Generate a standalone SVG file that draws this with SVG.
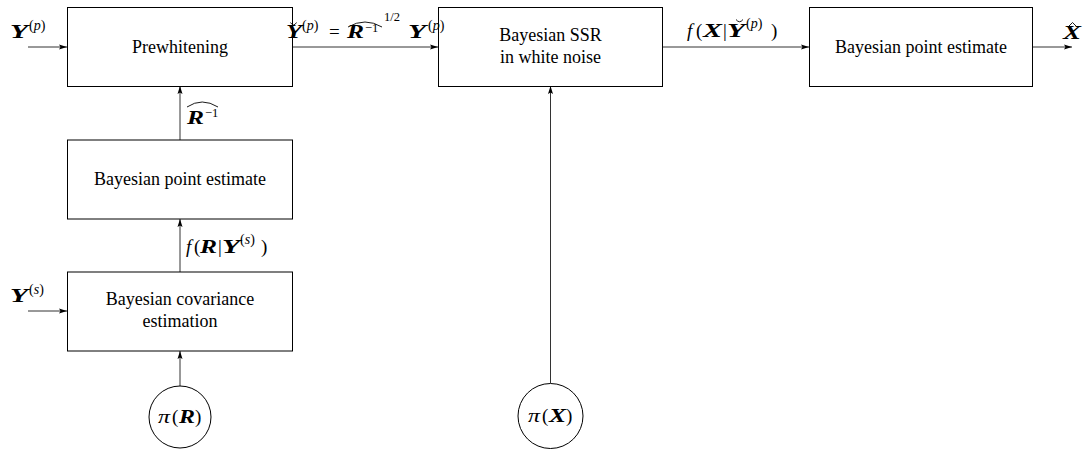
<svg xmlns="http://www.w3.org/2000/svg" width="1087" height="451" viewBox="0 0 1087 451">
<style>
text{font-family:"Liberation Serif","Times New Roman",serif;fill:#000}
.lbl{font-size:18px}
.m{font-size:19px}
.c{text-anchor:middle}
.b{font-weight:bold;font-style:italic}
.i{font-style:italic}
.s{font-size:14px}
.ss{font-size:12.5px}
.box{fill:#fff;stroke:#000;stroke-width:1}
.circ{fill:#fff;stroke:#000;stroke-width:1}
.con{stroke:#333;stroke-width:1;fill:none}
.acc{stroke:#000;stroke-width:0.9;fill:none}
</style>
<defs>
<marker id="ah" viewBox="0 0 8 6" refX="8" refY="3" markerWidth="8" markerHeight="6" markerUnits="userSpaceOnUse" orient="auto">
<path d="M0,0.5 L8,3 L0,5.5 L1.5,3 Z" fill="#000"/>
</marker>
</defs>

<g id="connectors">
<line class="con" x1="28" y1="47" x2="67" y2="47" marker-end="url(#ah)"/>
<line class="con" x1="292" y1="47" x2="438" y2="47" marker-end="url(#ah)"/>
<line class="con" x1="662" y1="47" x2="809" y2="47" marker-end="url(#ah)"/>
<line class="con" x1="1032" y1="47" x2="1072" y2="47" marker-end="url(#ah)"/>
<line class="con" x1="180" y1="140" x2="180" y2="86" marker-end="url(#ah)"/>
<line class="con" x1="180" y1="272" x2="180" y2="219" marker-end="url(#ah)"/>
<line class="con" x1="180" y1="386" x2="180" y2="351" marker-end="url(#ah)"/>
<line class="con" x1="28" y1="311" x2="67" y2="311" marker-end="url(#ah)"/>
<line class="con" x1="550.5" y1="383" x2="550.5" y2="86" marker-end="url(#ah)"/>
</g>

<g id="prewhitening">
<rect class="box" x="67.5" y="7.5" width="225" height="79"/>
<text class="lbl c" x="180" y="52.5">Prewhitening</text>
</g>

<g id="ssr">
<rect class="box" x="438.5" y="7.5" width="224" height="79"/>
<text class="lbl c" x="550.5" y="41">Bayesian SSR</text>
<text class="lbl c" x="550.5" y="63">in white noise</text>
</g>

<g id="point-estimate-x">
<rect class="box" x="809.5" y="7.5" width="223" height="79"/>
<text class="lbl c" x="921" y="52.5">Bayesian point estimate</text>
</g>

<g id="point-estimate-r">
<rect class="box" x="67.5" y="140" width="225" height="79"/>
<text class="lbl c" x="180" y="185">Bayesian point estimate</text>
</g>

<g id="cov-estimation">
<rect class="box" x="67.5" y="272" width="225" height="79"/>
<text class="lbl c" x="180" y="305">Bayesian covariance</text>
<text class="lbl c" x="180" y="327">estimation</text>
</g>

<g id="prior-r">
<circle class="circ" cx="180" cy="417" r="31"/>
<text class="m i" x="158" y="423" textLength="12" lengthAdjust="spacingAndGlyphs">π</text>
<text class="m" x="172" y="423">(</text>
<text class="m b" x="179" y="423" textLength="16" lengthAdjust="spacingAndGlyphs">R</text>
<text class="m" x="195" y="423">)</text>
</g>

<g id="prior-x">
<circle class="circ" cx="550.5" cy="416" r="32.5"/>
<text class="m i" x="528" y="422" textLength="12" lengthAdjust="spacingAndGlyphs">π</text>
<text class="m" x="542" y="422">(</text>
<text class="m b" x="549" y="422" textLength="17" lengthAdjust="spacingAndGlyphs">X</text>
<text class="m" x="566" y="422">)</text>
</g>

<g id="labels">
<text class="m b" x="10" y="38" textLength="18" lengthAdjust="spacingAndGlyphs">Y</text>
<text class="s" x="29" y="30">(<tspan class="i">p</tspan>)</text>
<text class="m b" x="10" y="302" textLength="18" lengthAdjust="spacingAndGlyphs">Y</text>
<text class="s" x="29" y="294">(<tspan class="i">s</tspan>)</text>

<text class="m b" x="286" y="38" textLength="16" lengthAdjust="spacingAndGlyphs">Y</text>
<path class="acc" d="M290.5,22.5 Q293.5,27.5 296.5,22.5"/>
<text class="s" x="302" y="30">(<tspan class="i">p</tspan>)</text>
<text class="m" x="329" y="38">=</text>
<text class="m b" x="347" y="38" textLength="17" lengthAdjust="spacingAndGlyphs">R</text>
<text class="ss" x="365" y="32">−1</text>
<path class="acc" d="M348,27 Q365,17 382,27"/>
<text class="ss" x="384" y="21">1/2</text>
<text class="m b" x="408" y="38" textLength="18" lengthAdjust="spacingAndGlyphs">Y</text>
<text class="s" x="428" y="30">(<tspan class="i">p</tspan>)</text>

<text class="m b" x="187" y="124" textLength="17" lengthAdjust="spacingAndGlyphs">R</text>
<text class="ss" x="205" y="117">−1</text>
<path class="acc" d="M187,107 Q202,97 218,107"/>

<text class="m i" x="186" y="253">f</text>
<text class="m" x="194" y="253">(</text>
<text class="m b" x="200" y="253" textLength="17" lengthAdjust="spacingAndGlyphs">R</text>
<text class="m" x="218" y="253">|</text>
<text class="m b" x="222" y="253" textLength="18" lengthAdjust="spacingAndGlyphs">Y</text>
<text class="s" x="240" y="244">(<tspan class="i">s</tspan>)</text>
<text class="m" x="261" y="253">)</text>

<text class="m i" x="687" y="37">f</text>
<text class="m" x="696" y="37">(</text>
<text class="m b" x="703" y="37" textLength="19" lengthAdjust="spacingAndGlyphs">X</text>
<text class="m" x="723" y="37">|</text>
<text class="m b" x="727" y="37" textLength="18" lengthAdjust="spacingAndGlyphs">Y</text>
<path class="acc" d="M736,19.5 Q739.5,24 743,19.5"/>
<text class="s" x="746" y="28">(<tspan class="i">p</tspan>)</text>
<text class="m" x="771" y="37">)</text>

<text class="m b" x="1063" y="39" textLength="18" lengthAdjust="spacingAndGlyphs">X</text>
<path class="acc" d="M1068,27 L1072.5,22.5 L1077,27"/>
</g>
</svg>
